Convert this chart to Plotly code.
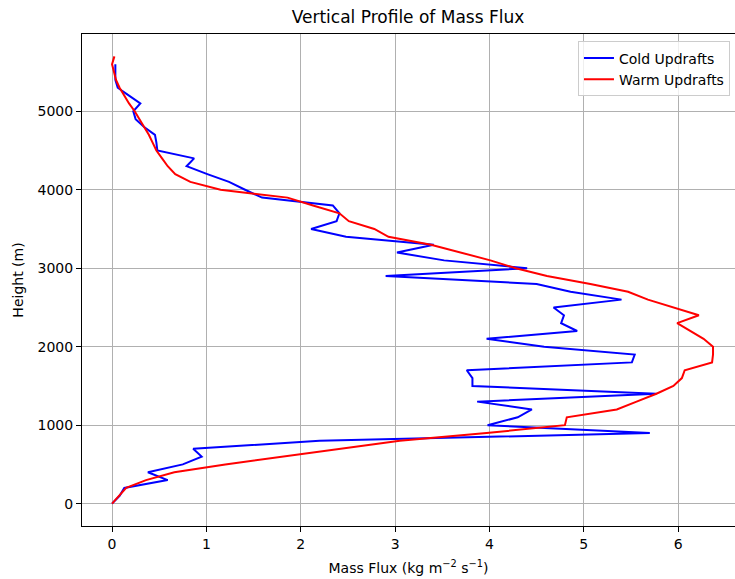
import plotly.graph_objects as go

# Height levels (m)
heights_cold = [0, 100, 200, 300, 400, 500, 600, 700, 800, 900,
                1000, 1100, 1200, 1300, 1400, 1500, 1600, 1700, 1800, 1900,
                2000, 2100, 2200, 2300, 2400, 2500, 2600, 2700, 2800, 2900,
                3000, 3100, 3200, 3300, 3400, 3500, 3600, 3700, 3800, 3900,
                4000, 4100, 4200, 4300, 4400, 4500, 4600, 4700, 4800, 4900,
                5000, 5100, 5200, 5300, 5400, 5500, 5600]
heights_warm = heights_cold + [5700]

# Mass flux (kg m^-2 s^-1)
flux_cold = [0.0, 0.08, 0.13, 0.59, 0.38, 0.75, 0.95, 0.86, 2.2, 5.70,
             3.98, 4.30, 4.45, 3.87, 5.77, 3.82, 3.82, 3.76, 5.51, 5.54,
             4.58, 3.97, 4.93, 4.76, 4.79, 4.68, 5.40, 4.86, 4.50, 2.90,
             4.40, 3.52, 3.02, 3.41, 2.48, 2.11, 2.38, 2.41, 2.34, 1.59,
             1.41, 1.24, 1.01, 0.79, 0.87, 0.48, 0.47, 0.455, 0.34, 0.25,
             0.225, 0.30, 0.18, 0.06, 0.035, 0.035, 0.035]
flux_warm = [0.0, 0.07, 0.15, 0.36, 0.66, 1.20, 1.83, 2.45, 3.05, 3.97,
             4.80, 4.82, 5.35, 5.56, 5.77, 5.95, 6.04, 6.07, 6.36, 6.37,
             6.37, 6.27, 6.13, 5.99, 6.22, 5.95, 5.68, 5.47, 5.07, 4.61,
             4.28, 4.01, 3.71, 3.38, 2.93, 2.78, 2.51, 2.41, 2.13, 1.86,
             1.15, 0.83, 0.67, 0.59, 0.53, 0.47, 0.43, 0.39, 0.34, 0.29,
             0.24, 0.18, 0.13, 0.08, 0.042, 0.02, 0.0, 0.025]

x_ticks = [0, 1, 2, 3, 4, 5, 6]
y_ticks = [0, 1000, 2000, 3000, 4000, 5000]

FONT = "DejaVu Sans"

fig = go.Figure()
fig.add_trace(go.Scatter(x=flux_cold, y=heights_cold, mode="lines",
                         name="Cold Updrafts",
                         line=dict(color="#0000ff", width=2)))
fig.add_trace(go.Scatter(x=flux_warm, y=heights_warm, mode="lines",
                         name="Warm Updrafts",
                         line=dict(color="#ff0000", width=2)))

axis_common = dict(
    showgrid=True, gridcolor="#b0b0b0", gridwidth=1,
    zeroline=False, showline=True, linecolor="black", linewidth=1,
    ticks="outside", ticklen=5, tickwidth=1, tickcolor="black",
    tickfont=dict(family=FONT, size=14, color="black"),
)

fig.update_layout(
    width=735, height=579,
    margin=dict(l=81.6, r=0, t=33.5, b=52.5),
    paper_bgcolor="white", plot_bgcolor="white",
    font=dict(family=FONT, size=14, color="black"),
    title=dict(text="Vertical Profile of Mass Flux",
               font=dict(family=FONT, size=17, color="black"),
               x=408 / 735, xanchor="center", xref="container",
               y=1 - 17 / 579, yanchor="middle", yref="container"),
    xaxis=dict(range=[-0.3185, 6.603], tickvals=x_ticks, mirror=True,
               title=dict(text="Mass Flux (kg m<sup>\u22122</sup> s<sup>\u22121</sup>)",
                          font=dict(family=FONT, size=14, color="black"),
                          standoff=12),
               **axis_common),
    yaxis=dict(range=[-285, 5985], tickvals=y_ticks, mirror=False,
               title=dict(text="Height (m)",
                          font=dict(family=FONT, size=14, color="black"),
                          standoff=10),
               **axis_common),
    legend=dict(x=0.9923, xanchor="right", y=0.9848, yanchor="top",
                bgcolor="rgba(255,255,255,0.8)", bordercolor="#cccccc",
                borderwidth=1,
                font=dict(family=FONT, size=14, color="black")),
    showlegend=True,
)

fig.write_html("out.html", config={"displayModeBar": False})
